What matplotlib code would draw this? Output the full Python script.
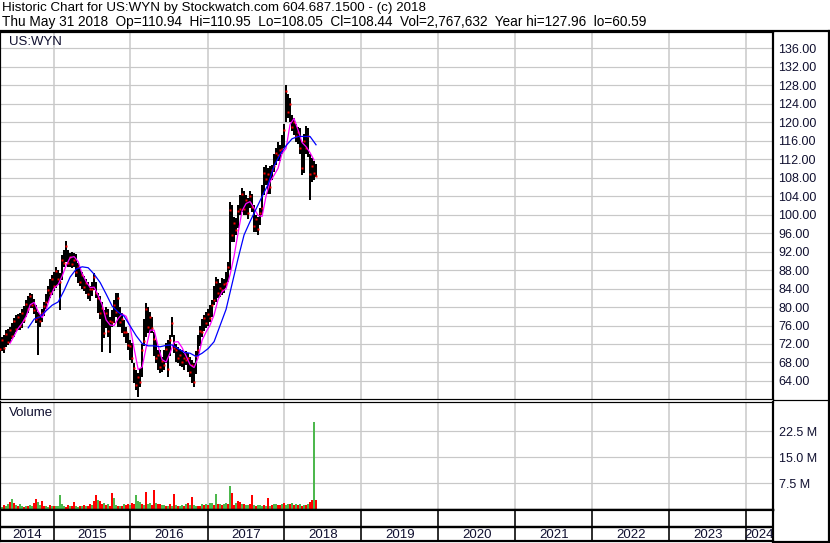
import numpy as np
import pandas as pd
import matplotlib
matplotlib.use('Agg')
from matplotlib import pyplot as plt
import matplotlib.dates as mdates
from matplotlib.lines import Line2D

plt.rcParams['font.family'] = ['Liberation Sans', 'DejaVu Sans']

#%% data (US:WYN, samples roughly every 9-10 days)
title1 = 'Historic Chart for US:WYN by Stockwatch.com 604.687.1500 - (c) 2018'
title2 = ('Thu May 31 2018  Op=110.94  Hi=110.95  Lo=108.05  Cl=108.44  '
          'Vol=2,767,632  Year hi=127.96  lo=60.59')
symbol = 'US:WYN'
first_day = '2014-04-23'
last_day = '2018-05-31'

hi = [73.3, 73.5, 74.0, 75.0, 75.2, 75.7, 76.5, 77.7, 78.2, 78.5,
      78.7, 79.5, 80.3, 81.5, 82.3, 83.0, 82.8, 81.8, 80.5, 79.0,
      78.5, 79.5, 81.0, 82.8, 84.5, 86.0, 87.0, 87.5, 88.7, 88.0,
      87.4, 91.3, 92.4, 94.3, 92.4, 91.7, 92.0, 91.7, 91.5, 89.6,
      88.5, 87.6, 86.8, 86.0, 85.4, 84.6, 85.5, 87.4, 85.5, 83.1,
      82.4, 81.0, 79.4, 80.0, 79.6, 77.9, 79.4, 81.5, 83.1, 83.1,
      80.0, 78.7, 77.2, 75.7, 74.4, 72.9, 72.2, 67.9, 66.4, 65.7,
      66.8, 72.0, 77.5, 80.9, 80.0, 79.0, 77.9, 74.5, 72.9, 70.7,
      70.7, 69.2, 70.7, 72.2, 72.9, 74.0, 77.9, 74.0, 72.0, 71.4,
      71.0, 70.7, 70.1, 70.5, 70.0, 69.2, 68.5, 67.9, 70.5, 74.0,
      76.0, 77.5, 78.3, 79.0, 79.5, 80.5, 81.5, 84.5, 86.5, 86.0,
      85.2, 86.3, 86.0, 87.6, 89.8, 102.8, 102.0, 99.5, 99.3, 102.0,
      104.3, 105.8, 105.0, 104.3, 103.5, 105.0, 104.5, 102.1, 100.0, 99.5,
      101.5, 106.5, 110.2, 110.8, 110.0, 110.5, 110.8, 113.0, 114.5, 115.8,
      115.0, 117.3, 119.5, 128.0, 126.0, 125.3, 121.6, 121.0, 119.5, 119.0,
      118.8, 115.8, 117.5, 119.1, 118.8, 113.0, 112.3, 111.5, 110.95]
lo = [70.1, 70.5, 70.0, 71.4, 71.8, 72.2, 73.0, 73.5, 74.5, 75.0,
      75.0, 75.5, 76.5, 77.9, 78.8, 79.8, 79.8, 78.5, 76.5, 69.6,
      75.7, 76.8, 78.0, 79.5, 80.8, 82.0, 82.6, 83.5, 84.2, 84.8,
      79.4, 85.9, 88.7, 89.8, 88.7, 88.7, 88.5, 88.7, 86.5, 85.2,
      84.6, 83.8, 83.4, 82.8, 81.8, 81.2, 82.3, 83.7, 82.0, 78.7,
      77.5, 70.3, 73.2, 75.5, 73.5, 70.1, 75.7, 76.6, 77.9, 75.7,
      75.7, 74.4, 73.5, 72.2, 70.7, 68.6, 67.9, 63.6, 62.0, 60.6,
      62.7, 64.9, 71.5, 73.5, 74.4, 74.4, 74.4, 69.5, 67.9, 66.4,
      65.8, 66.0, 66.4, 67.9, 64.9, 69.5, 73.5, 70.0, 68.0, 67.9,
      67.3, 67.0, 66.4, 67.5, 66.0, 64.9, 63.5, 62.7, 65.5, 69.5,
      71.5, 73.5, 74.8, 75.5, 76.0, 76.8, 77.9, 80.5, 81.1, 82.0,
      82.2, 82.6, 83.0, 84.2, 85.5, 88.0, 94.0, 94.1, 95.6, 97.0,
      100.0, 100.6, 100.0, 100.0, 99.0, 101.5, 100.5, 96.3, 96.3, 95.5,
      97.8, 100.0, 104.3, 106.5, 104.5, 104.5, 107.5, 109.3, 110.8, 111.5,
      111.5, 113.0, 114.5, 120.1, 121.0, 120.1, 118.0, 117.3, 115.8, 115.2,
      113.0, 108.6, 109.0, 113.0, 112.5, 103.2, 107.1, 107.5, 108.05]
cl = [71.0, 72.8, 71.2, 74.2, 72.5, 75.0, 73.8, 76.9, 75.2, 77.8,
      76.0, 78.8, 77.2, 80.7, 79.5, 82.4, 80.5, 79.4, 77.5, 77.8,
      77.0, 78.8, 80.2, 81.0, 83.6, 83.0, 86.1, 84.5, 87.8, 86.0,
      85.5, 90.2, 89.6, 93.1, 89.5, 90.8, 89.4, 90.2, 87.6, 88.7,
      85.4, 86.9, 84.3, 85.2, 82.8, 83.8, 84.0, 86.4, 83.0, 81.9,
      78.6, 79.8, 74.4, 78.8, 74.8, 76.9, 76.7, 80.4, 79.0, 82.0,
      76.8, 77.5, 74.5, 74.6, 71.8, 71.5, 68.9, 66.8, 63.2, 64.8,
      63.8, 70.8, 72.7, 79.6, 75.6, 77.9, 75.5, 73.1, 69.0, 69.7,
      67.0, 68.3, 67.5, 71.0, 66.5, 72.9, 76.6, 71.1, 70.8, 68.9,
      69.7, 68.1, 69.0, 68.6, 68.9, 66.0, 67.4, 63.8, 69.4, 70.8,
      74.9, 74.5, 77.6, 76.5, 78.4, 77.7, 80.5, 81.6, 85.4, 83.0,
      84.1, 83.6, 84.9, 85.3, 88.6, 100.9, 95.5, 98.2, 96.6, 100.8,
      101.2, 104.5, 101.3, 103.1, 100.4, 104.0, 101.7, 97.6, 99.0, 96.8,
      100.4, 101.5, 108.9, 107.8, 108.8, 106.0, 109.7, 110.5, 113.4, 112.8,
      114.0, 114.2, 118.3, 126.8, 122.1, 124.0, 119.0, 120.0, 116.9, 117.8,
      114.5, 110.0, 115.9, 114.3, 117.0, 108.7, 110.6, 108.9, 108.44]

# short average (magenta), every 2nd sample starting at sample 5
ma_short = [72.2, 73.8, 75.4, 76.5, 78.0, 80.5, 81.0, 79.0, 77.7, 79.5,
            82.2, 84.1, 84.9, 86.7, 89.0, 90.7, 90.9, 89.8, 87.2, 85.5,
            84.2, 84.3, 82.5, 80.5, 77.2, 76.1, 76.0, 77.5, 78.5, 78.0,
            75.7, 71.0, 66.5, 67.0, 71.2, 75.0, 75.0, 71.5, 68.6, 68.1,
            70.1, 72.4, 72.5, 71.2, 69.4, 67.5, 66.9, 69.0, 72.8, 74.6,
            76.1, 78.3, 81.6, 83.3, 84.0, 87.0, 91.0, 96.0, 100.8, 102.4,
            102.8, 101.4, 99.8, 99.6, 104.0, 107.1, 108.5, 110.0, 113.2, 114.3,
            119.5, 120.8, 118.3, 115.6, 114.7, 113.4, 111.8]
# long average (blue), every 3rd sample starting at sample 14
ma_long = [75.5, 77.4, 77.9, 79.2, 80.4, 81.1, 83.6, 86.5, 88.2, 88.7,
           88.5, 87.1, 85.3, 82.8, 80.2, 78.9, 78.0, 75.9, 73.8, 72.1,
           71.6, 71.6, 71.4, 71.7, 71.8, 71.0, 70.2, 70.0, 69.3, 70.0,
           71.0, 72.5, 76.0, 79.5, 85.0, 90.5, 95.6, 98.5, 101.2, 103.9,
           106.5, 110.5, 113.0, 114.9, 116.4, 116.9, 116.9, 116.9, 115.1]

# volume in millions, g = up, r = down
volume = [1.4, 1.0, 1.5, 1.2, 1.8, 2.2, 3.2, 2.0, 1.4, 1.1,
          1.6, 1.2, 1.0, 1.3, 1.2, 1.5, 1.1, 2.0, 3.2, 2.2,
          1.5, 2.5, 1.3, 1.2, 1.0, 1.4, 1.1, 1.2, 1.3, 1.2,
          4.3, 1.8, 1.2, 1.0, 1.4, 1.1, 1.2, 2.2, 1.3, 1.0,
          1.2, 1.1, 1.4, 1.3, 1.2, 1.8, 1.5, 2.5, 4.3, 2.8,
          2.5, 1.6, 2.0, 1.4, 1.8, 1.3, 4.9, 3.5, 1.4, 1.2,
          1.3, 1.2, 1.6, 1.4, 1.8, 1.5, 2.0, 1.8, 4.3, 2.5,
          2.2, 1.8, 1.4, 5.2, 1.6, 2.0, 1.4, 5.8, 2.0, 1.6,
          1.8, 1.5, 1.4, 1.2, 1.3, 1.6, 1.2, 4.6, 1.5, 1.2,
          1.3, 1.5, 1.2, 1.6, 2.0, 1.4, 3.7, 1.5, 1.3, 1.2,
          1.2, 1.6, 1.5, 1.8, 1.4, 2.0, 2.0, 1.5, 4.6, 1.6,
          1.8, 1.5, 1.6, 2.0, 1.8, 6.9, 4.8, 1.4, 2.0, 2.6,
          2.2, 1.6, 1.8, 1.5, 1.4, 1.6, 4.3, 1.4, 1.2, 1.5,
          1.5, 1.2, 1.4, 1.3, 3.4, 1.2, 1.4, 1.6, 1.8, 1.5,
          1.4, 1.8, 2.0, 1.5, 1.6, 1.8, 2.0, 1.4, 1.8, 1.5,
          1.6, 1.3, 1.5, 1.4, 1.8, 2.2, 2.9, 25.4, 2.9]
updown = ('rgrggrgrgr' 'ggrgrggrrg' 'grrggrgrgg' 'gggrrgrrgg'
          'rgrgrrgrrg' 'rrgrgrrggr' 'grgrrgrrgg' 'grgrggrrgr'
          'rggrgrgrgr' 'ggrgrgrggr' 'rgrgrggrgr' 'grggrgrrgr'
          'rgrggrrgrg' 'ggrgrgrggr' 'rgrggrgrgr' 'grgrgrrgr')

price_ticks = list(range(64, 137, 4))
vol_ticks = [7.5, 15.0, 22.5]
years = list(range(2014, 2025))

#%% layout helpers (pixels of an 830x543 canvas)
W, H = 830, 543
def box(x0, y0, x1, y1):
    return [x0 / W, 1 - y1 / H, (x1 - x0) / W, (y1 - y0) / H]
px = 0.72  # one pixel in points at 100 dpi

dates = pd.date_range(first_day, last_day, periods=len(hi))
xd = mdates.date2num(dates)
x_left = mdates.date2num(pd.Timestamp('2014-04-22'))
x_right = mdates.date2num(pd.Timestamp('2024-05-08'))
year_x = [mdates.date2num(pd.Timestamp(f'{y}-01-01')) for y in years[1:]]
grid_c = '#c8c8c8'
txt_c = '#101030'

fig = plt.figure(figsize=(8.3, 5.43), dpi=100)
fig.patch.set_facecolor('white')

#%% price panel
ax1 = fig.add_axes(box(0, 32, 773, 399))
ax1.set_xlim(x_left, x_right)
ax1.set_ylim(60.1, 139.5)
for p in price_ticks:
    ax1.axhline(p, color=grid_c, lw=1.2 * px, zorder=0)
for xv in year_x:
    ax1.axvline(xv, color=grid_c, lw=1.5 * px, zorder=0)
ax1.vlines(xd, lo, hi, color='black', lw=1.3, antialiased=False, zorder=2)
ax1.plot(xd, cl, ls='none', marker='s', ms=1.7, mec='none', mfc='#ff0000', zorder=3)
ax1.plot(xd[5::2], ma_short, color='#ff00ff', lw=0.9, zorder=4)
ax1.plot(xd[14::3], ma_long, color='#0000ff', lw=0.9, zorder=5)
ax1.yaxis.tick_right()
ax1.set_yticks(price_ticks)
ax1.set_yticklabels([f'{p:.2f}' for p in price_ticks])
ax1.tick_params(axis='y', length=0, pad=4, labelsize=9, labelcolor=txt_c)
ax1.set_xticks([])
ax1.text(9 / 773, 1 - 10 / 367, symbol, transform=ax1.transAxes,
         fontsize=9.5, va='center', ha='left', color=txt_c)
for s in ['left', 'top', 'right']:
    ax1.spines[s].set_linewidth(2.2 * px)
ax1.spines['bottom'].set_linewidth(1.2 * px)

#%% volume panel
ax2 = fig.add_axes(box(0, 402, 773, 510))
ax2.set_xlim(x_left, x_right)
ax2.set_ylim(-0.3, 30.9)
for v in vol_ticks:
    ax2.axhline(v, color=grid_c, lw=1.2 * px, zorder=0)
for xv in year_x:
    ax2.axvline(xv, color=grid_c, lw=1.5 * px, zorder=0)
bar_w = (xd[1] - xd[0]) * 1.0
colors = ['#4db84d' if c == 'g' else '#ff0000' for c in updown]
ax2.bar(xd, volume, width=bar_w, bottom=-0.3, color=colors, lw=0, zorder=2)
ax2.yaxis.tick_right()
ax2.set_yticks(vol_ticks)
ax2.set_yticklabels([f'{v:.1f} M' for v in vol_ticks])
ax2.tick_params(axis='y', length=0, pad=4, labelsize=9, labelcolor=txt_c)
ax2.set_xticks([])
ax2.text(9 / 773, 1 - 11 / 108, 'Volume', transform=ax2.transAxes,
         fontsize=9.5, va='center', ha='left', color=txt_c)
for s in ['left', 'right']:
    ax2.spines[s].set_linewidth(2.2 * px)
ax2.spines['top'].set_linewidth(1.2 * px)
ax2.spines['bottom'].set_linewidth(2.4 * px)

#%% year strip
ax3 = fig.add_axes(box(0, 510, 773, 541))
ax3.set_xlim(x_left, x_right)
ax3.set_ylim(0, 31)
ax3.axhline(14, color='black', lw=2.4 * px)
for xv in year_x:
    ax3.axvline(xv, color='black', lw=1.6 * px)
edges = [x_left] + year_x + [x_right]
for y, a, b in zip(years, edges[:-1], edges[1:]):
    ax3.text((a + b) / 2, 6.5, str(y), ha='center', va='center',
             fontsize=9.5, color=txt_c)
ax3.set_xticks([])
ax3.set_yticks([])
for s in ax3.spines.values():
    s.set_linewidth(2.2 * px)

#%% header and frame
fig.text(2 / W, 1 - 8 / H, title1, fontsize=9.65, va='center', ha='left')
fig.text(2 / W, 1 - 22 / H, title2, fontsize=9.8, va='center', ha='left')
fig.add_artist(Line2D([0, 1], [1 - 31 / H] * 2, color='black', lw=2.2 * px))
fig.add_artist(Line2D([829 / W] * 2, [1 - 31 / H, 0], color='black', lw=2.2 * px))
fig.add_artist(Line2D([773 / W, 1], [1 - 541.5 / H] * 2, color='black', lw=2.2 * px))
fig.add_artist(Line2D([773 / W, 1], [1 - 400 / H] * 2, color='black', lw=1.2 * px))

plt.savefig('out.png', dpi=100)
